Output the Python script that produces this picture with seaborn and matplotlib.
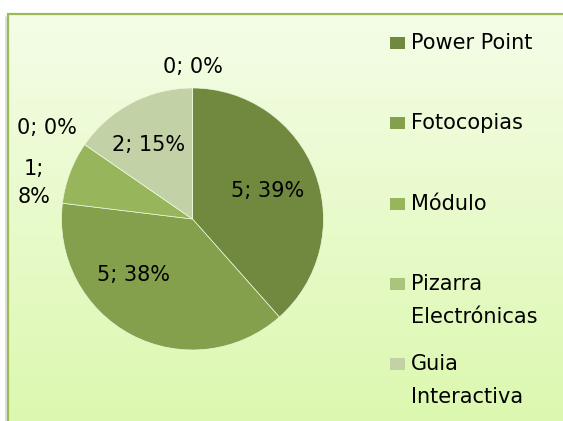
import numpy as np
import matplotlib.pyplot as plt
import matplotlib.colors as mcolors
from matplotlib.patches import Rectangle
import seaborn as sns

# data
categories = ["Power Point", "Fotocopias", "Módulo", "Pizarra\nElectrónicas", "Guia\nInteractiva", ""]
counts = [5, 5, 1, 0, 2, 0]
pct_labels = [39, 38, 8, 0, 15, 0]
colors = ["#71893f", "#84a04c", "#97b55a", "#a9c47d", "#c3d1a6", "#d3dfba"]

# label placement (radius as fraction of pie radius, turn in degrees from wedge middle)
label_radius = [0.61, 0.62, 1.24, 1.31, 0.66, 1.16]
label_turn = [0, -19, 8, 2.5, 3, 0]
label_wrap = [False, False, True, False, False, False]

sns.set_theme(style="white")
plt.rcParams["font.family"] = ["DejaVu Sans"]

W, H = 563, 421
fig = plt.figure(figsize=(W / 100, H / 100), dpi=100)
fig.patch.set_facecolor("white")

# background panel, pixel coordinates
bg = fig.add_axes([0, 0, 1, 1])
grad = np.linspace(0, 1, 256).reshape(-1, 1)
cmap = mcolors.LinearSegmentedColormap.from_list("bg", ["#f4fde7", "#dcf8af"])
bg.imshow(grad, cmap=cmap, extent=(8, W, H, 14), aspect="auto")
bg.plot([6.3, 6.3], [17, H], color="#d9d9d9", lw=1.2)
bg.plot([8, 8, W + 5], [H + 5, 14, 14], color="#9bbb59", lw=1.6, solid_joinstyle="miter")
bg.set_xlim(0, W)
bg.set_ylim(H, 0)
bg.axis("off")

# pie
cx, cy, r = 192.5, 219, 131
ax = fig.add_axes([(cx - r) / W, 1 - (cy + r) / H, 2 * r / W, 2 * r / H])
wedges, _ = ax.pie(counts, colors=colors, startangle=90, counterclock=False,
                   wedgeprops=dict(edgecolor="#eef7dd", linewidth=0.5))
ax.set_xlim(-1, 1)
ax.set_ylim(-1, 1)
ax.axis("off")

for w, c, p, rad, turn, wrap in zip(wedges, counts, pct_labels, label_radius, label_turn, label_wrap):
    ang = np.deg2rad((w.theta1 + w.theta2) / 2 + turn)
    sep = "\n" if wrap else " "
    ax.text(rad * np.cos(ang), rad * np.sin(ang), f"{c};{sep}{p}%", ha="center", va="center",
            fontsize=15, color="black", linespacing=1.45, multialignment="center", clip_on=False)

# legend
for i, (name, col) in enumerate(zip(categories[:5], colors[:5])):
    base = 49 + i * 80.3
    bg.add_patch(Rectangle((390, base - 12), 15, 12, facecolor=col, edgecolor="none"))
    for k, line in enumerate(name.split("\n")):
        bg.text(411, base + k * 33, line, ha="left", va="baseline", fontsize=15, color="black")

fig.savefig("out.png", dpi=100)
